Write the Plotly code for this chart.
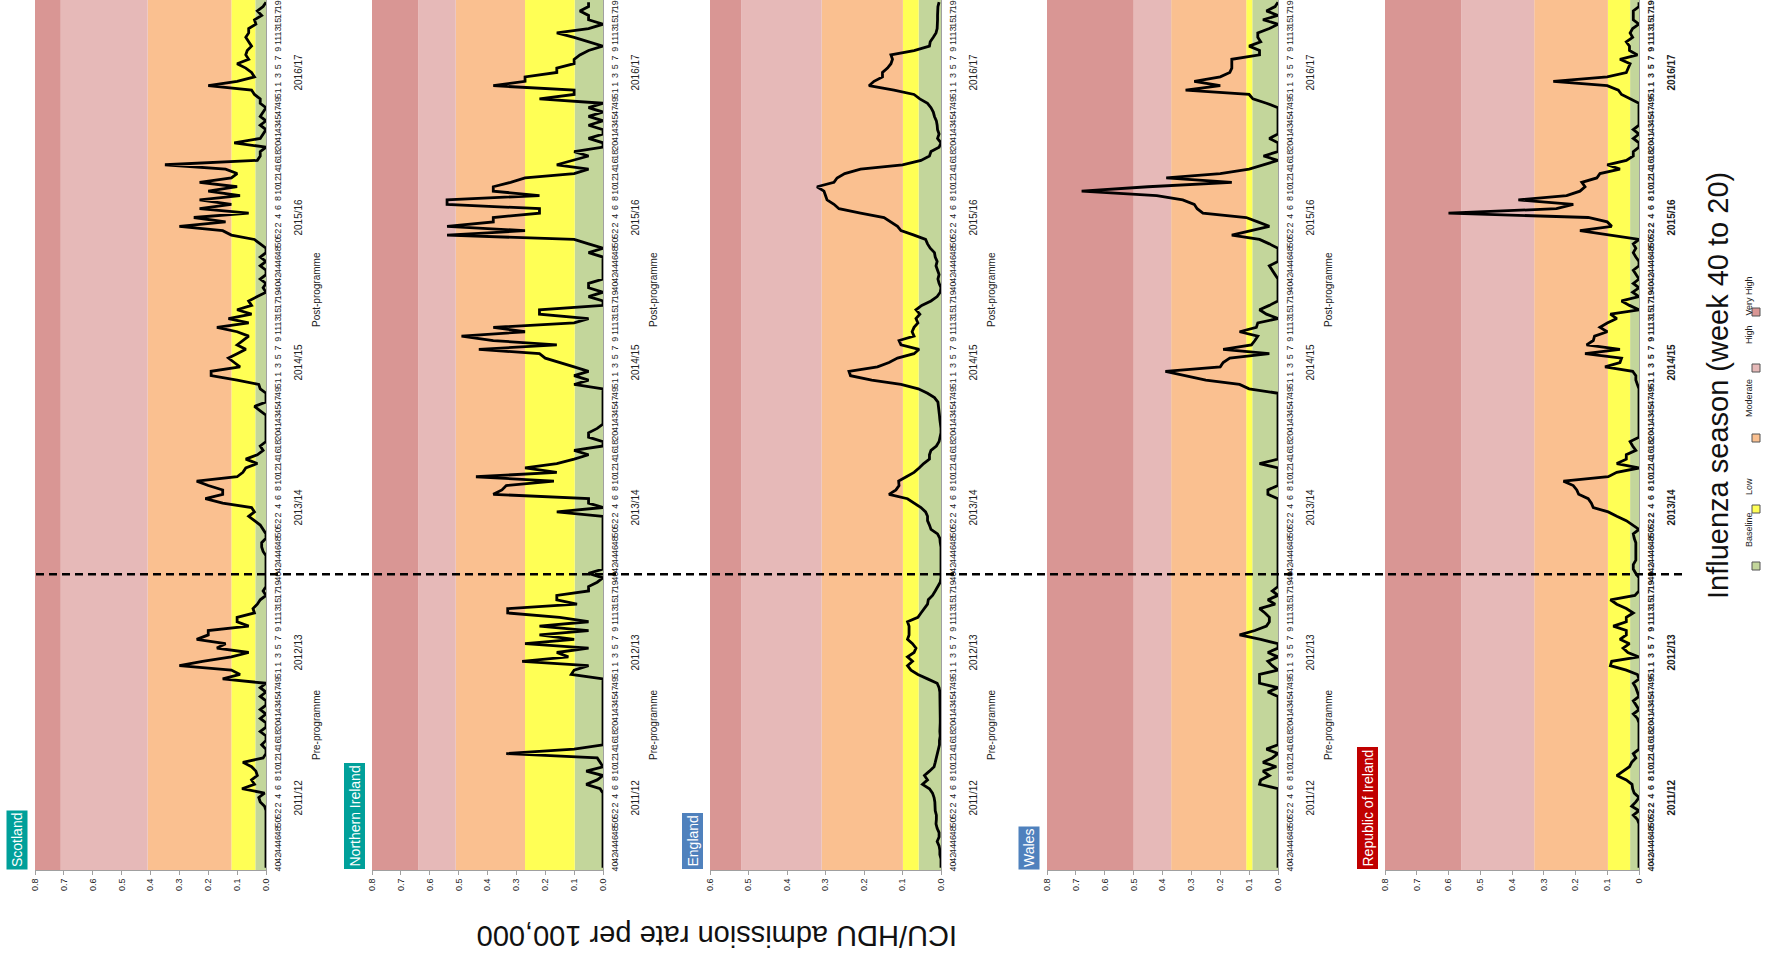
import plotly.graph_objects as go

W, H = 1767, 966
FONT = "Arial, Liberation Sans, sans-serif"

seasons = ["2011/12", "2012/13", "2013/14", "2014/15", "2015/16", "2016/17"]
season_weeks = list(range(40, 53)) + list(range(1, 21))  # 33 weeks, week 40 to 20
band_names = ["Baseline", "Low", "Moderate", "High", "Very High"]
band_colors = ["#C3D69B", "#FFFF55", "#FAC090", "#E6B9B8", "#D99694"]

scotland = [
    [0,0,0,0,0,0,0,0,0,0,0,0,0,0,0.005,0.02,0.025,0.005,0.083,0.04,0.05,0.03,0.035,0.05,0.08,0.01,0,0,0.015,0,0,0.02,0],
    [0,0.02,0,0.02,0,0,0.02,0,0.02,0,0.15,0.09,0.12,0.3,0.22,0.12,0.06,0.17,0.14,0.24,0.2,0.2,0.06,0.1,0.1,0.04,0.045,0.03,0.02,0,0.01,0,0],
    [0,0,0,0,0,0,0.01,0.015,0.015,0,0,0.01,0.02,0.04,0.06,0.04,0.05,0.15,0.21,0.15,0.15,0.2,0.24,0.1,0.08,0.07,0.03,0.07,0.03,0.01,0.02,0,0],
    [0,0,0,0,0,0.02,0.04,0,0,0,0.02,0.025,0.1,0.19,0.19,0.09,0.11,0.13,0.1,0.07,0.1,0.08,0.06,0.1,0.17,0.06,0.13,0.05,0.1,0.05,0.06,0.03,0],
    [0.01,0,0.02,0,0,0.02,0,0.02,0,0,0.02,0.04,0.12,0.15,0.3,0.14,0.25,0.06,0.23,0.12,0.23,0.09,0.2,0.1,0.23,0.12,0.1,0.14,0.35,0.03,0.02,0.02,0],
    [0.11,0.02,0.01,0,0.02,0,0.02,0.01,0,0.02,0.02,0.04,0.05,0.2,0.1,0.04,0.05,0.07,0.1,0.06,0.07,0.065,0.05,0.06,0.07,0.06,0.06,0.035,0.04,0.015,0.03,0.01,0],
]
northern_ireland = [
    [0]*18 + [0.01,0.058,0.02,0,0.058,0,0.01,0.02,0.335,0.1,0,0,0,0,0],
    [0,0,0,0,0,0,0,0,0,0,0,0.11,0.1,0.05,0.28,0.12,0.16,0.05,0.27,0.1,0.22,0.05,0.22,0.05,0.15,0.33,0.33,0.09,0.16,0.16,0.05,0.05,0.02],
    [0,0.05,0,0,0,0,0,0,0,0,0,0,0,0,0,0.16,0,0.05,0.05,0.38,0.35,0.335,0.17,0.44,0.16,0.27,0.16,0.1,0.05,0.1,0,0,0.05],
    [0.05,0.02,0,0,0,0,0,0,0,0,0,0.1,0.05,0.1,0.05,0.1,0.15,0.2,0.22,0.43,0.16,0.38,0.49,0.27,0.38,0.1,0.05,0.22,0.22,0,0,0.05,0],
    [0.05,0.05,0,0,0,0,0,0,0.05,0,0.05,0.1,0.54,0.27,0.54,0.38,0.38,0.22,0.22,0.54,0.54,0.22,0.38,0.38,0.32,0.27,0.1,0.05,0.16,0.1,0.05,0.1,0],
    [0,0.05,0,0,0.05,0,0.05,0,0.05,0,0.22,0.1,0.1,0.38,0.27,0.27,0.16,0.16,0.1,0.1,0.08,0.05,0,0.05,0.1,0.16,0.05,0,0.05,0.05,0.08,0.05,0.05],
]
england = [
    [0,0,0,0.003,0.003,0.005,0.01,0.005,0.005,0.01,0.013,0.012,0.012,0.015,0.015,0.016,0.018,0.022,0.03,0.048,0.035,0.043,0.03,0.018,0.015,0.012,0.008,0.005,0.004,0.004,0.002,0.003,0.002],
    [0.002,0.002,0.002,0.002,0.002,0.002,0.003,0.003,0.005,0.01,0.035,0.06,0.078,0.087,0.074,0.087,0.07,0.065,0.074,0.087,0.083,0.083,0.083,0.087,0.06,0.052,0.043,0.035,0.033,0.022,0.015,0.009,0.002],
    [0,0,0,0,0,0,0,0,0.002,0.003,0.009,0.026,0.03,0.035,0.035,0.04,0.052,0.07,0.087,0.135,0.117,0.109,0.11,0.09,0.07,0.057,0.045,0.03,0.03,0.026,0.012,0.005,0.002],
    [0,0,0.002,0.003,0.004,0.005,0.006,0.008,0.017,0.035,0.059,0.104,0.18,0.235,0.239,0.165,0.135,0.113,0.07,0.057,0.104,0.109,0.07,0.075,0.07,0.06,0.065,0.055,0.065,0.05,0.026,0.01,0.002],
    [0,0.005,0.008,0.005,0.01,0.013,0.01,0.015,0.017,0.028,0.035,0.04,0.07,0.104,0.113,0.13,0.148,0.209,0.265,0.278,0.296,0.3,0.304,0.322,0.278,0.27,0.25,0.209,0.1,0.052,0.03,0.026,0.005],
    [0,0.009,0.005,0.009,0.01,0.012,0.017,0.02,0.026,0.035,0.055,0.07,0.122,0.187,0.174,0.152,0.152,0.139,0.13,0.126,0.13,0.07,0.03,0.028,0.02,0.013,0.01,0.009,0.009,0.009,0.009,0.008,0.005],
]
wales = [
    [0]*19 + [0.064,0.06,0.03,0.052,0.006,0.052,0.02,0,0.04,0,0,0,0,0],
    [0,0,0,0,0,0,0,0.035,0,0.064,0.064,0.064,0,0.02,0.035,0,0.035,0,0,0.06,0.133,0.08,0.04,0.03,0.03,0.045,0.064,0.01,0.035,0,0.02,0,0],
    [0]*19 + [0.035,0.035,0,0,0,0,0,0.064,0,0,0,0,0,0],
    [0,0,0,0,0,0,0,0,0,0,0.1,0.133,0.25,0.32,0.39,0.2,0.19,0.167,0.03,0.19,0.092,0.08,0.07,0.133,0.075,0.07,0,0.04,0.064,0.03,0,0,0],
    [0,0,0,0.01,0.02,0.03,0,0,0,0,0.03,0.064,0.16,0.1,0.03,0.07,0.11,0.26,0.28,0.29,0.33,0.42,0.68,0.45,0.16,0.387,0.2,0.1,0.05,0,0.05,0,0],
    [0,0.03,0,0,0,0,0,0,0,0.04,0.087,0.1,0.32,0.2,0.29,0.2,0.167,0.16,0.16,0.16,0.064,0.064,0.1,0.06,0.07,0.07,0.03,0,0.052,0,0.04,0.01,0],
]
republic_of_ireland = [
    [0,0,0,0,0,0,0,0,0,0,0,0.005,0.018,0,0.023,0.01,0,0.015,0.02,0.022,0.04,0.07,0.05,0.03,0.023,0.01,0.018,0,0,0,0,0,0],
    [0,0.005,0.018,0,0.01,0.018,0,0.005,0.01,0.018,0,0.005,0.04,0.09,0.086,0,0.035,0.05,0.03,0.06,0.04,0.04,0.081,0.04,0.04,0.018,0.04,0.07,0.09,0.013,0,0,0],
    [0,0.01,0.018,0.018,0.01,0.01,0.01,0.01,0.01,0.015,0.018,0,0.02,0.04,0.07,0.097,0.144,0.15,0.16,0.19,0.196,0.207,0.238,0.097,0.07,0,0.07,0.04,0.04,0.01,0.02,0.028,0],
    [0,0,0,0,0,0,0,0,0,0,0,0.005,0.01,0.01,0.02,0.107,0.06,0.055,0.17,0.06,0.165,0.144,0.14,0.1,0.123,0.1,0.07,0.09,0,0.03,0.055,0,0.02],
    [0,0.018,0,0.01,0.018,0,0,0.01,0.018,0.01,0.018,0,0.09,0.186,0.086,0.1,0.16,0.6,0.26,0.207,0.38,0.228,0.186,0.17,0.18,0.133,0.123,0.06,0.1,0.04,0.018,0.018,0],
    [0,0.018,0,0.018,0,0,0,0,0,0,0.028,0.055,0.065,0.1,0.27,0.1,0.04,0.035,0.028,0.06,0.005,0.03,0.03,0.04,0.02,0.028,0.02,0,0.018,0.018,0.018,0,0],
]

# threshold upper bounds for Baseline, Low, Moderate, High, Very High
thr_scotland = [0.037, 0.12, 0.41, 0.711, 0.8]
thr_ni = [0.098, 0.27, 0.51, 0.64, 0.8]
thr_england = [0.058, 0.099, 0.31, 0.519, 0.6]
thr_wales = [0.089, 0.11, 0.37, 0.5, 0.8]
thr_roi = [0.028, 0.098, 0.33, 0.56, 0.8]

panels = [
    dict(name="Scotland", data=scotland, thr=thr_scotland, vmax=0.8, px=(35, 266), box="#00A09A", bold=False, zero="0.0"),
    dict(name="Northern Ireland", data=northern_ireland, thr=thr_ni, vmax=0.8, px=(372, 603), box="#00A09A", bold=False, zero="0.0"),
    dict(name="England", data=england, thr=thr_england, vmax=0.6, px=(710, 941), box="#4F81BD", bold=False, zero="0.0"),
    dict(name="Wales", data=wales, thr=thr_wales, vmax=0.8, px=(1047, 1278), box="#4F81BD", bold=False, zero="0.0"),
    dict(name="Republic of Ireland", data=republic_of_ireland, thr=thr_roi, vmax=0.8, px=(1385, 1639), box="#C00000", bold=True, zero="0"),
]

n_weeks = len(seasons) * len(season_weeks)
positions = list(range(n_weeks))
week_of = [season_weeks[k % len(season_weeks)] for k in positions]
tickpos = positions[::2]
ticklab = [str(week_of[k]) for k in tickpos]

PLOT_BOTTOM = 870
fig = go.Figure()
shapes = []
annotations = []

for i, p in enumerate(panels, start=1):
    for s in p["data"]:
        assert len(s) == 33, (p["name"], len(s))
    vals = [v for s in p["data"] for v in s]
    xa = "x" if i == 1 else f"x{i}"
    ya = "y" if i == 1 else f"y{i}"
    xk = "xaxis" if i == 1 else f"xaxis{i}"
    yk = "yaxis" if i == 1 else f"yaxis{i}"

    # bands
    lo = 0
    for hi, col in zip(p["thr"], band_colors):
        shapes.append(dict(type="rect", xref=xa, yref=ya, x0=lo, x1=hi, y0=-0.5, y1=n_weeks - 0.5,
                           fillcolor=col, line=dict(width=0), layer="below"))
        lo = hi

    fig.add_trace(go.Scatter(x=vals, y=positions, mode="lines", xaxis=xa, yaxis=ya,
                             line=dict(color="black", width=2.8), showlegend=False, hoverinfo="skip"))

    nt = int(round(p["vmax"] * 10))
    tv = [round(t * 0.1, 1) for t in range(nt + 1)]
    tt = [p["zero"] if t == 0 else f"{v:.1f}" for t, v in enumerate(tv)]
    tickfont = dict(family=FONT, size=9, color="#222")
    fig.layout[xk] = dict(domain=[p["px"][0] / W, p["px"][1] / W], range=[p["vmax"], 0], anchor=ya,
                          tickvals=tv, ticktext=tt, tickangle=-90, tickfont=tickfont, automargin=False,
                          showline=True, linecolor="#A0A0A0", linewidth=1, ticks="outside", ticklen=4,
                          tickcolor="#A0A0A0", showgrid=False, zeroline=False, fixedrange=True)
    wt = [f"<b>{t}</b>" for t in ticklab] if p["bold"] else ticklab
    fig.layout[yk] = dict(domain=[(H - PLOT_BOTTOM) / H, 1], range=[-0.5, n_weeks - 0.5], anchor=xa,
                          side="right", tickvals=tickpos, ticktext=wt, tickangle=-90, automargin=False,
                          tickfont=dict(family=FONT, size=9, color="#222"), ticklabelstandoff=3,
                          showline=True, linecolor="#A0A0A0", linewidth=1, ticks="",
                          showgrid=False, zeroline=False, fixedrange=True)

    # season separators (multi-level category axis)
    for b in range(len(seasons)):
        ypos = b * len(season_weeks) - 0.5
        ext = 55 if b in (0, 2) else 36
        shapes.append(dict(type="line", xref=xa, yref=ya, xsizemode="pixel", xanchor=0, x0=0, x1=ext,
                           y0=ypos, y1=ypos, line=dict(color="#A0A0A0", width=1.2)))
    # season labels
    for s_i, sname in enumerate(seasons):
        txt = f"<b>{sname}</b>" if p["bold"] else sname
        annotations.append(dict(xref=xa, yref=ya, x=0, y=s_i * 33 + 16, xshift=32, text=txt, showarrow=False,
                                textangle=-90, font=dict(family=FONT, size=10, color="#222")))
    if not p["bold"]:
        annotations.append(dict(xref=xa, yref=ya, x=0, y=32.5, xshift=50, text="Pre-programme", showarrow=False,
                                textangle=-90, font=dict(family=FONT, size=10, color="#222")))
        annotations.append(dict(xref=xa, yref=ya, x=0, y=131.5, xshift=50, text="Post-programme", showarrow=False,
                                textangle=-90, font=dict(family=FONT, size=10, color="#222")))
    # panel label box
    annotations.append(dict(xref=f"{xa} domain", yref="paper", x=0, xshift=-7, xanchor="right",
                            y=(H - PLOT_BOTTOM) / H, yanchor="bottom", text=p["name"], showarrow=False,
                            textangle=-90, bgcolor=p["box"], borderpad=2,
                            font=dict(family=FONT, size=14, color="white")))

# programme start dashed line
shapes.append(dict(type="line", xref="paper", yref="y", x0=36 / W, x1=1683 / W, y0=66.8, y1=66.8,
                   line=dict(color="black", width=2.6, dash="8px,5px")))

# axis titles
annotations.append(dict(xref="paper", yref="paper", x=717 / W, y=(H - 954) / H, text="ICU/HDU admission rate per 100,000",
                        showarrow=False, textangle=180, font=dict(family=FONT, size=29, color="#111")))
annotations.append(dict(xref="paper", yref="paper", x=1736 / W, y=(H - 386) / H, text="Influenza season (week 40 to 20)",
                        showarrow=False, textangle=-90, font=dict(family=FONT, size=29, color="#111")))

# legend (rotated)
leg_sq = [566, 509, 438, 368, 312]
leg_tx = [530, 487, 398, 335, 275]
for nm, col, sq, tx in zip(band_names, band_colors, leg_sq, leg_tx):
    shapes.append(dict(type="rect", xref="paper", yref="paper", x0=1752 / W, x1=1760 / W,
                       y0=(H - sq - 4) / H, y1=(H - sq + 4) / H, fillcolor=col, line=dict(color="#555", width=1)))
    annotations.append(dict(xref="paper", yref="paper", x=1756 / W, y=(H - tx) / H, text=nm, showarrow=False,
                            textangle=-90, font=dict(family=FONT, size=9, color="#222")))

fig.update_layout(width=W, height=H, margin=dict(l=0, r=0, t=0, b=0, autoexpand=False), paper_bgcolor="white",
                  plot_bgcolor="white", shapes=shapes, annotations=annotations, showlegend=False)
fig.write_html("out.html", config={"displayModeBar": False},
               post_script="document.body.style.margin='0';document.body.style.overflow='hidden';")
